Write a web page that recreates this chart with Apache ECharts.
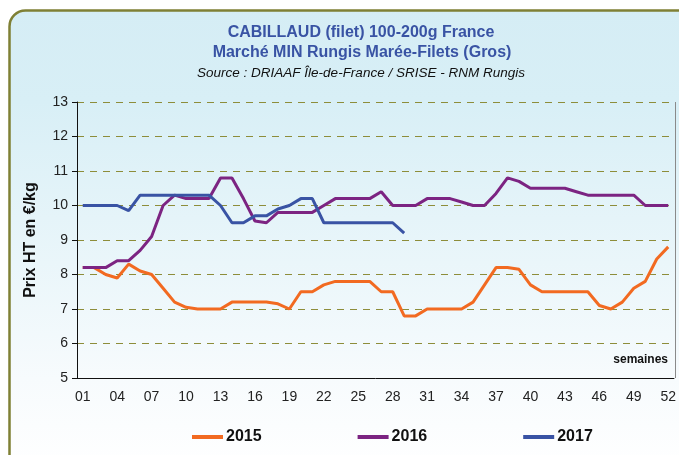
<!DOCTYPE html>
<html><head><meta charset="utf-8">
<script src="https://cdn.jsdelivr.net/npm/echarts@6/dist/echarts.min.js"></script>
<style>html,body{margin:0;padding:0;background:#fff}#c{width:679px;height:455px}</style>
</head><body><div id="c"></div>
<script>
var weeks = ['01','02','03','04','05','06','07','08','09','10','11','12','13','14','15','16','17','18','19','20','21','22','23','24','25','26','27','28','29','30','31','32','33','34','35','36','37','38','39','40','41','42','43','44','45','46','47','48','49','50','51','52'];
var s2015 = [8.2,8.2,8.0,7.9,8.3,8.1,8.0,7.6,7.2,7.05,7.0,7.0,7.0,7.2,7.2,7.2,7.2,7.15,7.0,7.5,7.5,7.7,7.8,7.8,7.8,7.8,7.5,7.5,6.8,6.8,7.0,7.0,7.0,7.0,7.2,7.7,8.2,8.2,8.15,7.7,7.5,7.5,7.5,7.5,7.5,7.1,7.0,7.2,7.6,7.8,8.45,8.8];
var s2016 = [8.2,8.2,8.2,8.4,8.4,8.7,9.1,10.0,10.3,10.2,10.2,10.2,10.8,10.8,10.2,9.55,9.5,9.8,9.8,9.8,9.8,10.0,10.2,10.2,10.2,10.2,10.4,10.0,10.0,10.0,10.2,10.2,10.2,10.1,10.0,10.0,10.35,10.8,10.7,10.5,10.5,10.5,10.5,10.4,10.3,10.3,10.3,10.3,10.3,10.0,10.0,10.0];
var s2017 = [10.0,10.0,10.0,10.0,9.85,10.3,10.3,10.3,10.3,10.3,10.3,10.3,10.0,9.5,9.5,9.7,9.7,9.9,10.0,10.2,10.2,9.5,9.5,9.5,9.5,9.5,9.5,9.5,9.2];
var seriesNames = ['2015','2016','2017'];
var colors = ['#F26A21','#7C2482','#3953A4'];
var yTicks = {min:5, max:13, interval:1};

var chart = echarts.init(document.getElementById('c'), null, {renderer:'canvas'});
var font = '"Liberation Sans", Arial, sans-serif';
chart.setOption({
  animation:false,
  textStyle:{fontFamily:font},
  graphic:[
    {type:'rect', z:-10, shape:{x:9.5,y:10.5,width:700,height:460,r:16},
     style:{fill:new echarts.graphic.LinearGradient(0,0,0,1,[
       {offset:0,color:'#d5edf5'},{offset:0.2,color:'#d8eff6'},{offset:0.8,color:'#f7fbfd'},{offset:1,color:'#ffffff'}]),
       stroke:'#7f8035', lineWidth:2.5}},
    {type:'text', x:361, y:33, z:10, style:{text:'CABILLAUD (filet) 100-200g France', font:'bold 16px '+font, fill:'#3953A4', align:'center', verticalAlign:'middle'}},
    {type:'text', x:362, y:53, z:10, style:{text:'Marché MIN Rungis Marée-Filets (Gros)', font:'bold 16px '+font, fill:'#3953A4', align:'center', verticalAlign:'middle'}},
    {type:'text', x:361, y:73, z:10, style:{text:'Source : DRIAAF Île-de-France / SRISE - RNM Rungis', font:'italic 13.5px '+font, fill:'#111', align:'center', verticalAlign:'middle'}},
    {type:'text', x:668, y:360, z:10, style:{text:'semaines', font:'bold 12px '+font, fill:'#111', align:'right', verticalAlign:'middle'}},
    {type:'line', z:5, shape:{x1:675.5,y1:102,x2:675.5,y2:378}, style:{stroke:'#8a8a8a', lineWidth:1}}
  ],
  grid:{left:77, top:102, right:4, bottom:77},
  legend:{data:seriesNames, left:192, top:424, padding:[5,0,0,0], itemWidth:31, itemHeight:4, itemGap:96, icon:'rect',
    textStyle:{fontFamily:font, fontWeight:'bold', fontSize:16, color:'#111', padding:[0,0,0,-2]}},
  xAxis:{type:'category', data:weeks, boundaryGap:true,
    axisLine:{lineStyle:{color:'#111', width:1}},
    axisTick:{interval:0, length:5, lineStyle:{color:'#111'}},
    axisLabel:{interval:2, fontSize:14, color:'#222', margin:12, fontFamily:font},
    splitLine:{show:false}},
  yAxis:{type:'value', min:yTicks.min, max:yTicks.max, interval:yTicks.interval,
    name:'Prix HT en €/kg', nameLocation:'middle', nameGap:38,
    nameTextStyle:{fontFamily:font, fontWeight:'bold', fontSize:16, color:'#111'},
    axisLine:{show:true, lineStyle:{color:'#111'}},
    axisTick:{show:true, length:5, lineStyle:{color:'#111'}},
    axisLabel:{fontSize:14, color:'#222', margin:9, fontFamily:font},
    splitLine:{show:true, lineStyle:{color:'#8d8d3a', type:[7,6], width:1}}},
  series:[
    {name:seriesNames[0], type:'line', data:s2015, symbol:'none', lineStyle:{width:3, color:colors[0]}, itemStyle:{color:colors[0]}},
    {name:seriesNames[1], type:'line', data:s2016, symbol:'none', lineStyle:{width:3, color:colors[1]}, itemStyle:{color:colors[1]}},
    {name:seriesNames[2], type:'line', data:s2017, symbol:'none', lineStyle:{width:3, color:colors[2]}, itemStyle:{color:colors[2]}}
  ]
});
</script></body></html>
